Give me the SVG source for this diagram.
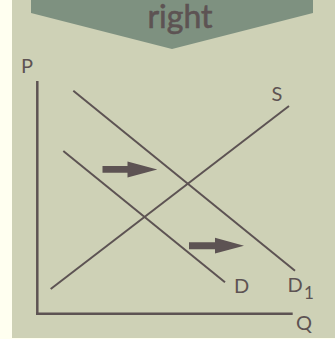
<svg xmlns="http://www.w3.org/2000/svg" width="335" height="339" viewBox="0 0 335 339">
<style>
.lbl{font-family:Lato,"Open Sans",sans-serif;fill:#5D5353}
.ln{stroke:#5D5353;fill:none;stroke-linecap:butt}
.arr{fill:#5D5353}
</style>
<rect x="0" y="0" width="335" height="339" fill="#FFFFF0"/>
<rect x="12" y="0" width="323" height="338" fill="#CED1B6"/>
<g id="banner">
<polygon points="31,0 313,0 313,13 172,49 31,13" fill="#7E9180"/>
<text class="lbl" x="180" y="27.5" font-size="32" text-anchor="middle" stroke="#5D5353" stroke-width="0.6">right</text>
</g>
<g id="axes">
<line class="ln" x1="37.3" y1="81" x2="37.3" y2="314" stroke-width="2.5"/>
<line class="ln" x1="36" y1="313.7" x2="292.7" y2="313.7" stroke-width="2.5"/>
<text class="lbl" x="21" y="73" font-size="20">P</text>
<text class="lbl" x="296" y="330" font-size="20">Q</text>
</g>
<g id="connectors">
<line id="S" class="ln" x1="50.7" y1="289" x2="289" y2="106" stroke-width="2"/>
<line id="D" class="ln" x1="63.3" y1="151" x2="225" y2="282.3" stroke-width="2"/>
<line id="D1" class="ln" x1="73.3" y1="90.7" x2="295" y2="270.7" stroke-width="2"/>
<polygon class="arr" points="102.5,166 127.5,166 127.5,161.5 157.3,169.4 127.5,177.5 127.5,172.7 102.5,172.7"/>
<polygon class="arr" points="189,242.3 215,242.3 215,237.7 244,245.7 215,253.5 215,249.2 189,249.2"/>
</g>
<g id="labels">
<text class="lbl" x="271.5" y="101" font-size="20">S</text>
<text class="lbl" x="234" y="293" font-size="20">D</text>
<text class="lbl" x="287.5" y="291.7" font-size="20">D</text>
<text class="lbl" x="304" y="299.3" font-size="17">1</text>
</g>
</svg>
